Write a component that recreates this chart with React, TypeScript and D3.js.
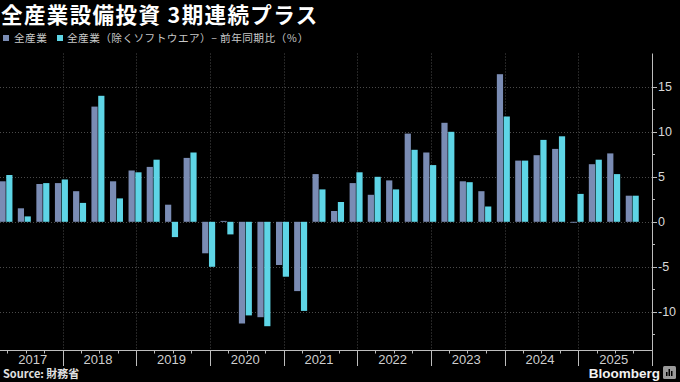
import React from "react";
import * as d3 from "d3";

const quarters = [
  "2017-Q1","2017-Q2","2017-Q3","2017-Q4",
  "2018-Q1","2018-Q2","2018-Q3","2018-Q4",
  "2019-Q1","2019-Q2","2019-Q3","2019-Q4",
  "2020-Q1","2020-Q2","2020-Q3","2020-Q4",
  "2021-Q1","2021-Q2","2021-Q3","2021-Q4",
  "2022-Q1","2022-Q2","2022-Q3","2022-Q4",
  "2023-Q1","2023-Q2","2023-Q3","2023-Q4",
  "2024-Q1","2024-Q2","2024-Q3","2024-Q4",
  "2025-Q1","2025-Q2","2025-Q3",
];
const allIndustry = [
  4.5, 1.5, 4.2, 4.3,
  3.4, 12.8, 4.5, 5.7,
  6.1, 1.9, 7.1, -3.5,
  0.1, -11.3, -10.6, -4.8,
  -7.7, 5.3, 1.2, 4.3,
  3.0, 4.6, 9.8, 7.7,
  11.0, 4.5, 3.4, 16.4,
  6.8, 7.4, 8.1, -0.1,
  6.4, 7.6, 2.9,
];
const exSoftware = [
  5.2, 0.6, 4.3, 4.7,
  2.1, 14.0, 2.6, 5.5,
  6.9, -1.7, 7.7, -5.0,
  -1.4, -10.4, -11.6, -6.1,
  -9.9, 3.6, 2.2, 5.5,
  5.0, 3.6, 8.0, 6.3,
  10.0, 4.4, 1.7, 11.7,
  6.8, 9.1, 9.5, 3.1,
  6.9, 5.3, 2.9,
];
const years = [2017, 2018, 2019, 2020, 2021, 2022, 2023, 2024, 2025];
const yTicks = [-10, -5, 0, 5, 10, 15];
const yMinorTicks = [-12.5, -7.5, -2.5, 2.5, 7.5, 12.5];
const title = "全産業設備投資 3期連続プラス";
const legendLabels = ["全産業", "全産業（除くソフトウエア）– 前年同期比（％）"];
const source = "Source: 財務省";

const W = 680, H = 382;
const plotTop = 53.5, plotBottom = 350.5, plotRight = 652;
const GRAY = "#7a8cb4", CYAN = "#5ed5e6";
const FONT = "'Liberation Sans', Arial, sans-serif";
const CJK = "'Noto Sans CJK JP', 'Noto Sans', sans-serif";

function qEnd(q: string) {
  const [y, qq] = q.split("-Q");
  return new Date(+y, 3 * +qq, 0);
}

export default function App() {
  const x = d3.scaleTime()
    .domain([new Date(2017, 0, 1), new Date(2026, 0, 1)])
    .range([-11, plotRight]);
  const y = d3.scaleLinear().domain([-14.3, 18.7]).range([plotBottom, plotTop]);
  const bw = 6.2, gap = 0.3;
  const quarterTicks = d3.timeMonth.every(3)!.range(new Date(2017, 0, 1), new Date(2026, 0, 2));

  return (
    <div style={{ position: "fixed", left: 0, top: 0, width: W, height: H, background: "#000" }}>
      <svg width={W} height={H} style={{ display: "block" }}>
        <rect x={0} y={0} width={W} height={H} fill="#000" />
        <text x={1} y={23} fill="#fff" fontFamily={CJK} fontWeight={700} fontSize={21.5} letterSpacing={1.4}>{title}</text>
        {/* legend */}
        <rect x={3} y={35} width={6} height={6} fill={GRAY} />
        <text x={14} y={42} fill="#c8c8c8" fontFamily={CJK} fontSize={10.7} letterSpacing={0.4}>{legendLabels[0]}</text>
        <rect x={57} y={35} width={6} height={6} fill={CYAN} />
        <text x={67} y={42} fill="#c8c8c8" fontFamily={CJK} fontSize={10.7} letterSpacing={0.4}>{legendLabels[1]}</text>

        {/* gridlines */}
        {yTicks.map((t) => (
          <line key={"hg" + t} x1={0} x2={plotRight} y1={Math.round(y(t)) + 0.5} y2={Math.round(y(t)) + 0.5}
            stroke="#4a4a4a" strokeDasharray="1,2" />
        ))}
        {years.slice(1).map((yr) => (
          <line key={"vg" + yr} x1={Math.round(x(new Date(yr, 0, 1))) + 0.5} x2={Math.round(x(new Date(yr, 0, 1))) + 0.5}
            y1={plotTop} y2={plotBottom} stroke="#4a4a4a" strokeDasharray="1,2" />
        ))}

        {/* bars */}
        {quarters.map((q, i) => {
          const cx = x(qEnd(q)) - 1;
          const a = allIndustry[i], b = exSoftware[i];
          return (
            <g key={q}>
              <rect x={cx - gap - bw} width={bw} y={Math.min(y(a), y(0))} height={Math.max(Math.abs(y(a) - y(0)), 0.8)} fill={GRAY} />
              <rect x={cx + gap} width={bw} y={Math.min(y(b), y(0))} height={Math.max(Math.abs(y(b) - y(0)), 0.8)} fill={CYAN} />
            </g>
          );
        })}

        {/* x axis */}
        <line x1={0} x2={plotRight + 0.5} y1={plotBottom} y2={plotBottom} stroke="#bdbdbd" />
        {quarterTicks.map((d, i) => {
          const isYear = d.getMonth() === 0;
          const xx = Math.round(x(d)) + 0.5;
          return <line key={"qt" + i} x1={xx} x2={xx} y1={plotBottom} y2={isYear ? 366 : 353.5} stroke="#bdbdbd" />;
        })}
        {years.map((yr) => {
          const s = x(new Date(yr, 0, 1)), e = x(new Date(yr + 1, 0, 1));
          const cx = (Math.max(s, 6) + e) / 2 - 1.5;
          return (
            <text key={"yl" + yr} x={cx} y={364} textAnchor="middle" fill="#cfcfcf" fontFamily={FONT} fontSize={13}>{yr}</text>
          );
        })}

        {/* y axis */}
        <line x1={plotRight + 0.5} x2={plotRight + 0.5} y1={plotTop} y2={366} stroke="#bdbdbd" />
        {yTicks.map((t) => (
          <g key={"yt" + t}>
            <line x1={plotRight} x2={plotRight + 5} y1={Math.round(y(t)) + 0.5} y2={Math.round(y(t)) + 0.5} stroke="#bdbdbd" />
            <text x={plotRight + 6} y={y(t) + 4.3} fill="#d8d8d8" fontFamily={FONT} fontSize={12.5}>
              {t < 0 ? "-" + Math.abs(t) : t}
            </text>
          </g>
        ))}
        {yMinorTicks.map((t) => (
          <line key={"ym" + t} x1={plotRight} x2={plotRight + 3} y1={Math.round(y(t)) + 0.5} y2={Math.round(y(t)) + 0.5} stroke="#bdbdbd" />
        ))}

        {/* footer */}
        <text x={3} y={378} fill="#e0e0e0" fontFamily={CJK} fontWeight={700} fontSize={11}>{source}</text>
        <text x={660} y={378} textAnchor="end" fill="#f2f2f2" fontFamily={FONT} fontWeight={700} fontSize={13.5}>Bloomberg</text>
        <rect x={663} y={366} width={13} height={13} rx={1.5} fill="#9a9a9a" />
        <rect x={666} y={372} width={1.5} height={4} fill="#000" />
        <rect x={668.5} y={369} width={1.5} height={7} fill="#000" />
        <rect x={671} y={371} width={1.5} height={5} fill="#000" />
      </svg>
    </div>
  );
}
